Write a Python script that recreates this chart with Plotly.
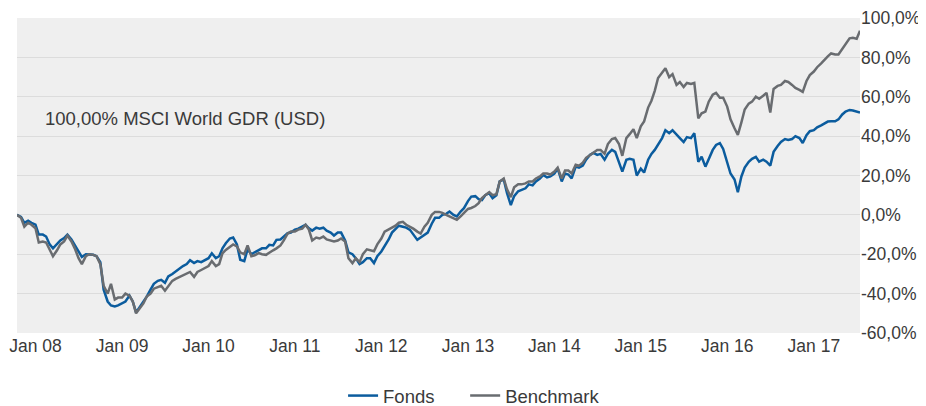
import pandas as pd
import plotly.graph_objects as go

# Semi-monthly observations (1st and 15th) from 15 Oct 2007 to 15 Jul 2017
start_date = "2007-10-15"
end_date = "2017-07-15"

fonds_2007 = [0, -1, -4, -3, -4]
bench_2007 = [0, -1.5, -6, -4, -5]

fonds_2008 = [-5, -10, -10, -11, -15, -17, -15, -13, -11.8, -10, -12.5, -15.5,
              -19, -21.4, -20, -20, -20.3, -21, -24, -38, -44, -46, -46.5, -46]
bench_2008 = [-6.8, -14, -13.5, -14, -18, -21, -18, -15, -13.5, -10.5, -13.5, -17,
              -22, -25, -21, -20, -20.3, -21, -25, -36, -40, -35, -43, -42]

fonds_2009 = [-45, -44, -41, -44, -49.5, -47, -44.5, -41.5, -38, -35, -33.5, -33,
              -34.5, -31.3, -30, -28.7, -27.5, -26, -25, -23, -24.5, -23.5, -24, -23]
bench_2009 = [-42, -40, -41, -44, -50, -47.5, -45, -41.5, -40, -37.5, -36.5, -36,
              -38.5, -36, -33.5, -32.5, -31.5, -30.5, -29.5, -29, -31.5, -29, -28, -27]

fonds_2010 = [-22, -19.5, -22, -21, -17, -14.4, -12, -11.5, -15, -22.8, -23.5, -17.5,
              -20, -19, -17.8, -17, -17, -15.2, -15.5, -12.7, -12.5, -11, -9.3, -9]
bench_2010 = [-26, -23.5, -26, -25, -19.5, -17.8, -16, -15, -16, -19, -20, -15.5,
              -21, -20.5, -19.4, -20, -20.3, -19, -18, -17, -15.5, -13, -9.5, -8.5]

fonds_2011 = [-7.5, -7, -6, -5, -6.8, -8, -6.5, -7, -6.5, -8, -9, -10.5,
              -9, -9, -13, -19, -20, -22, -25, -24, -22, -22, -24.5, -21]
bench_2011 = [-8.5, -7.5, -7, -5, -7.5, -13, -11.5, -12, -11, -12.5, -13, -13.5,
              -13, -12, -13.5, -22, -24.5, -22, -24, -20, -17.5, -18, -18.5, -15]

fonds_2012 = [-18.6, -16, -12.5, -9, -7, -5.5, -6, -6.5, -7.6, -10.2, -12.7, -11.5,
              -10, -9, -4.5, -1.5, -1.5, 0, 0.5, 1.7, 0, -0.8, 1.7, 3.4]
bench_2012 = [-12, -8.5, -7.5, -6.5, -5.5, -4, -3.5, -5, -6, -7, -8.5, -9.5,
              -6, -4, 0, 1.5, 1.5, 1, 0, -0.8, -1.7, -2.5, -0.8, 0.8]

fonds_2013 = [7, 9.3, 9.5, 8, 7.5, 10, 11, 8.5, 10, 17, 18, 11,
              5, 9.5, 12, 12.5, 13.5, 15.5, 15, 17, 18.5, 20.3, 19, 19.5]
bench_2013 = [3, 3.5, 4.5, 6, 8.5, 10, 11.5, 10, 10.5, 17, 18.5, 13,
              9, 14, 15.5, 15.5, 16, 17, 17, 18.5, 19.5, 21, 21, 20.5]

fonds_2014 = [21, 23.5, 17, 21, 20.5, 18.5, 24.5, 24, 25, 28, 30.5, 31.5,
              30.5, 31, 28, 31, 33, 32, 27, 22, 28, 28.5, 28, 20]
bench_2014 = [22, 24, 18.5, 22.5, 22.5, 21, 25.5, 25, 26.5, 29, 30.5, 32,
              33, 33, 31, 36, 38.5, 39, 36, 30, 39, 41, 43.5, 39]

fonds_2015 = [23.5, 21.5, 28, 31, 33, 35.5, 39, 43, 41.5, 43, 40.5, 39,
              37, 39.5, 39, 41.5, 27, 29.5, 24.5, 28, 33, 35.5, 36.4, 33.5]
bench_2015 = [45, 47.5, 54.5, 58, 63, 69.5, 72, 74.5, 70, 71.5, 66, 67.5,
              65, 67, 66.5, 67, 49, 51.6, 52.5, 57.5, 61, 62, 59.5, 59.5]

fonds_2016 = [27, 21, 18, 11.5, 19.5, 24, 27, 28.5, 29.5, 27, 28, 27,
              25, 32, 35, 37, 38.5, 38, 38.5, 40, 39, 36.5, 40.5, 42.5]
bench_2016 = [55, 48.5, 44, 40.6, 47, 53.5, 56.5, 57.5, 60, 59, 60.5, 62,
              52, 64, 65.5, 66, 68, 67.5, 66, 64.5, 63.5, 62.5, 68, 71]

fonds_2017 = [43, 44.5, 45.5, 46.5, 47.4, 47.5, 47.5, 48.5, 51, 52.5, 53.3, 53, 52.5, 52]
bench_2017 = [72.8, 75, 77, 79, 80.5, 82, 81.5, 81.5, 84.5, 87, 89.7, 90, 89.5, 93.5]

fonds = (fonds_2007 + fonds_2008 + fonds_2009 + fonds_2010 + fonds_2011 + fonds_2012
         + fonds_2013 + fonds_2014 + fonds_2015 + fonds_2016 + fonds_2017)
bench = (bench_2007 + bench_2008 + bench_2009 + bench_2010 + bench_2011 + bench_2012
         + bench_2013 + bench_2014 + bench_2015 + bench_2016 + bench_2017)

dates = pd.date_range(start_date, end_date, freq="SMS")
n = min(len(dates), len(fonds), len(bench))
dates = dates[:n]
fonds = fonds[:n]
bench = bench[:n]

x_tick_vals = ["2008-01-01", "2009-01-01", "2010-01-01", "2011-01-01", "2012-01-01",
               "2013-01-01", "2014-01-01", "2015-01-01", "2016-01-01", "2017-01-01"]
x_tick_text = ["Jan 08", "Jan 09", "Jan 10", "Jan 11", "Jan 12",
               "Jan 13", "Jan 14", "Jan 15", "Jan 16", "Jan 17"]
y_tick_vals = [-60, -40, -20, 0, 20, 40, 60, 80, 100]
y_tick_text = ["-60,0%", "-40,0%", "-20,0%", "0,0%", "20,0%", "40,0%", "60,0%", "80,0%", "100,0%"]

annotation_text = "100,00% MSCI World GDR (USD)"

FONT = "Liberation Sans, Arial, sans-serif"
TXT = "#3a3a3a"

fig = go.Figure()
fig.add_trace(go.Scatter(x=dates, y=fonds, mode="lines", name="Fonds",
                         line=dict(color="#0b5c9e", width=2.5), legend="legend"))
fig.add_trace(go.Scatter(x=dates, y=bench, mode="lines", name="Benchmark",
                         line=dict(color="#696c70", width=2.5), legend="legend2"))

fig.add_annotation(text=annotation_text, xref="paper", yref="y", x=0.031, y=49.2,
                   xanchor="left", yanchor="middle", showarrow=False,
                   font=dict(family=FONT, size=18.5, color=TXT))

legend_common = dict(orientation="h", xref="container", yref="container",
                     y=0.025, xanchor="left", yanchor="middle",
                     font=dict(family=FONT, size=18.5, color=TXT),
                     bgcolor="rgba(0,0,0,0)")

# page body has an 8px margin, so the figure is 918x398 and offset by 8px
fig.update_layout(
    width=918, height=398,
    margin=dict(l=9, r=66, t=10, b=73),
    paper_bgcolor="white",
    plot_bgcolor="#efefef",
    font=dict(family=FONT, size=17, color=TXT),
    showlegend=True,
    legend=dict(x=0.365, **legend_common),
    legend2=dict(x=0.498, **legend_common),
    xaxis=dict(range=[start_date, end_date], tickvals=x_tick_vals, ticktext=x_tick_text,
               showgrid=False, zeroline=False, showline=False, ticks="",
               automargin=False, tickfont=dict(size=17.5, color=TXT)),
    yaxis=dict(range=[-60, 100], tickvals=y_tick_vals, ticktext=y_tick_text,
               side="right", showgrid=True, gridcolor="#dcdcdc", gridwidth=1,
               zeroline=False, showline=False, ticks="", automargin=False,
               tickfont=dict(size=17.5, color=TXT)),
)

fig.write_html("out.html")
